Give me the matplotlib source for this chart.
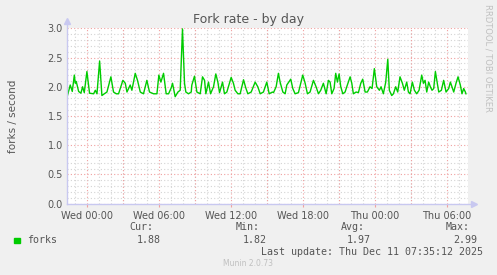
import matplotlib
matplotlib.use('Agg')
import matplotlib.pyplot as plt
from matplotlib.ticker import MultipleLocator, FuncFormatter

# Fork rate samples: hours relative to Wed 00:00, forks/second
hours = [-1.69, -1.42, -1.25, -1.08, -1.00, -0.92, -0.72, -0.53, -0.39, -0.25,
         -0.03, 0.19, 0.53, 0.67, 0.81, 1.03, 1.22, 1.42, 1.64, 1.97,
         2.19, 2.42, 2.61, 2.97, 3.17, 3.31, 3.58, 3.72, 4.00, 4.19,
         4.42, 4.69, 4.97, 5.19, 5.53, 5.81, 5.97, 6.14, 6.36, 6.58,
         6.78, 7.00, 7.11, 7.33, 7.56, 7.75, 7.94, 8.11, 8.22, 8.44,
         8.67, 8.72, 8.94, 9.14, 9.42, 9.61, 9.78, 9.89, 10.11, 10.28,
         10.53, 10.72, 10.89, 11.03, 11.28, 11.44, 11.64, 12.00, 12.19, 12.33,
         12.56, 12.75, 13.03, 13.22, 13.39, 13.67, 14.00, 14.22, 14.42, 14.69,
         14.97, 15.17, 15.44, 15.53, 15.75, 15.94, 16.08, 16.31, 16.50, 16.64,
         16.97, 17.14, 17.33, 17.61, 17.97, 18.17, 18.36, 18.58, 18.86, 19.08,
         19.28, 19.47, 19.69, 19.92, 20.11, 20.25, 20.39, 20.58, 20.72, 20.86,
         21.00, 21.14, 21.31, 21.50, 21.64, 21.92, 22.06, 22.19, 22.42, 22.61,
         22.81, 22.97, 23.17, 23.36, 23.58, 23.75, 23.94, 24.14, 24.36, 24.50,
         24.69, 24.89, 25.06, 25.19, 25.39, 25.53, 25.72, 25.89, 26.08, 26.28,
         26.44, 26.64, 26.78, 26.92, 27.11, 27.28, 27.47, 27.67, 27.89, 28.03,
         28.17, 28.31, 28.47, 28.61, 28.75, 28.89, 29.03, 29.17, 29.31, 29.53,
         29.72, 29.92, 30.14, 30.28, 30.56, 30.75, 30.92, 31.11, 31.25, 31.39,
         31.53, 31.58]
forks = [1.82, 2.03, 1.92, 2.20, 2.06, 2.09, 1.92, 1.89, 2.00, 1.90,
         2.26, 1.89, 1.88, 1.94, 1.88, 2.44, 1.85, 1.88, 1.91, 2.17,
         1.91, 1.88, 1.88, 2.11, 2.06, 1.91, 2.03, 1.94, 2.23, 2.11,
         1.91, 1.88, 2.11, 1.91, 1.88, 1.88, 2.20, 2.08, 2.23, 1.88,
         1.88, 1.98, 2.06, 1.83, 1.91, 1.94, 2.99, 2.06, 1.91, 1.88,
         1.91, 2.03, 2.18, 1.91, 1.88, 2.17, 2.11, 1.88, 2.08, 1.88,
         2.00, 2.22, 2.08, 1.90, 2.08, 1.88, 1.91, 2.16, 2.06, 1.94,
         1.88, 1.88, 2.12, 1.98, 1.88, 1.91, 2.08, 2.00, 1.88, 1.91,
         2.08, 1.88, 1.91, 1.90, 2.00, 2.23, 2.08, 1.91, 1.88, 2.03,
         2.13, 1.97, 1.88, 1.90, 2.20, 2.06, 1.88, 1.91, 2.11, 2.00,
         1.88, 1.94, 2.06, 1.88, 2.11, 2.08, 1.88, 1.97, 2.23, 2.08,
         2.22, 2.00, 1.88, 1.91, 2.00, 2.17, 2.06, 1.88, 1.91, 1.90,
         2.06, 2.13, 1.91, 1.91, 2.00, 1.97, 2.31, 2.00, 1.94, 2.00,
         1.88, 2.08, 2.47, 1.94, 1.85, 1.88, 2.00, 1.91, 2.17, 2.06,
         1.94, 2.08, 1.91, 1.88, 2.08, 1.94, 1.88, 1.94, 2.20, 2.06,
         2.11, 1.91, 2.08, 2.00, 1.94, 1.97, 2.26, 2.08, 1.91, 1.94,
         2.11, 1.91, 1.97, 2.08, 1.91, 2.06, 2.17, 2.03, 1.88, 1.97,
         1.91, 1.88]

tick_hours = [0, 6, 12, 18, 24, 30]
tick_labels = ['Wed 00:00', 'Wed 06:00', 'Wed 12:00', 'Wed 18:00', 'Thu 00:00', 'Thu 06:00']

stat_names = ['Cur:', 'Min:', 'Avg:', 'Max:']
stat_values = ['1.88', '1.82', '1.97', '2.99']

BG = '#f0f0f0'
TXT = '#555555'
AXIS = '#c8c8f0'

fig = plt.figure(figsize=(4.97, 2.75), dpi=100, facecolor=BG)
ax = fig.add_axes([67 / 497, 1 - 203.7 / 275, 401 / 497, 175.4 / 275])
ax.set_facecolor('white')

ax.plot(hours, forks, color='#00cc00', lw=1.0, zorder=3)

ax.set_xlim(-1.69, 31.75)
ax.set_ylim(0, 3.0)

# grid: grey dotted every hour / 0.1, red dotted every 3h / 0.5
ax.xaxis.set_major_locator(MultipleLocator(3))
ax.xaxis.set_minor_locator(MultipleLocator(1))
ax.yaxis.set_major_locator(MultipleLocator(0.5))
ax.yaxis.set_minor_locator(MultipleLocator(0.1))
ax.grid(which='minor', color='#d4d4d4', ls=(0, (1, 2)), lw=0.8, zorder=1)
ax.grid(which='major', color='#f0a0a0', ls=(0, (1, 2)), lw=0.8, zorder=2)

ax.set_xticks(tick_hours)
ax.set_xticklabels(tick_labels)
ax.xaxis.set_minor_locator(MultipleLocator(1))
# red gridlines every 3h, labels only every 6h
for h in range(-0, 32, 3):
    if h not in tick_hours:
        ax.axvline(h, color='#f0a0a0', ls=(0, (1, 2)), lw=0.8, zorder=2)
ax.yaxis.set_major_formatter(FuncFormatter(lambda v, p: f'{v:.1f}'))

ax.tick_params(which='both', length=0, labelsize=7, labelcolor=TXT, pad=3)
ax.tick_params(axis='x', which='major', length=2, color='#f0a0a0', direction='out')
for s in ax.spines.values():
    s.set_visible(False)

# axis lines with arrow heads
ax.plot([0, 1.012], [0, 0], transform=ax.transAxes, color=AXIS, lw=1, clip_on=False, zorder=4)
ax.plot([0, 0], [0, 1.035], transform=ax.transAxes, color=AXIS, lw=1, clip_on=False, zorder=4)
ax.plot([1.015], [0], transform=ax.transAxes, marker='>', ms=4, color=AXIS, clip_on=False, zorder=4)
ax.plot([0], [1.04], transform=ax.transAxes, marker='^', ms=4, color=AXIS, clip_on=False, zorder=4)

fig.text(249 / 497, 1 - 19 / 275, 'Fork rate - by day', ha='center', va='center',
         fontsize=9, color=TXT)
fig.text(13 / 497, 1 - 116 / 275, 'forks / second', rotation=90, ha='center', va='center',
         fontsize=7.5, color=TXT)
fig.text(488 / 497, 1 - 4 / 275, 'RRDTOOL / TOBI OETIKER', rotation=270, ha='center', va='top',
         fontsize=6, color='#c0c0c0')

# legend block (monospace like rrdtool)
mono = dict(family='DejaVu Sans Mono', fontsize=7.2, color=TXT)
fig.patches.append(plt.Rectangle((14 / 497, 1 - 243 / 275), 5.5 / 497, 5.5 / 275,
                                 transform=fig.transFigure, color='#00cc00', figure=fig))
fig.text(27 / 497, 1 - 240 / 275, 'forks', ha='left', va='center', **mono)
name_x = [153, 260, 365, 470]
val_x = [161, 267, 371, 477]
for n, v, nx, vx in zip(stat_names, stat_values, name_x, val_x):
    fig.text(nx / 497, 1 - 227.5 / 275, n, ha='right', va='center', **mono)
    fig.text(vx / 497, 1 - 240 / 275, v, ha='right', va='center', **mono)
fig.text(483 / 497, 1 - 252 / 275, 'Last update: Thu Dec 11 07:35:12 2025', ha='right',
         va='center', **mono)
fig.text(248 / 497, 1 - 264 / 275, 'Munin 2.0.73', ha='center', va='center',
         fontsize=5.5, color='#c0c0c0')

fig.savefig('out.png', dpi=100, facecolor=BG)
